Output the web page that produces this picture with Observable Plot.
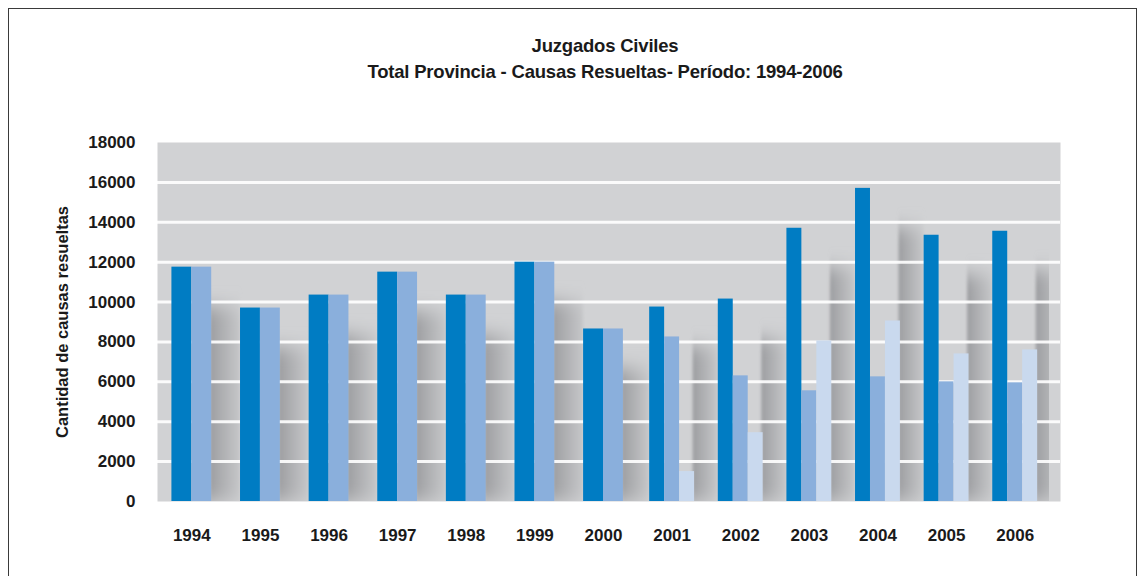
<!DOCTYPE html>
<html><head><meta charset="utf-8">
<script src="https://cdn.jsdelivr.net/npm/d3@7"></script>
<script src="https://cdn.jsdelivr.net/npm/@observablehq/plot@0.6"></script>
<style>
body{margin:0;background:#fff;width:1140px;height:576px;overflow:hidden;position:relative;font-family:"Liberation Sans",Arial,sans-serif}
#frame{position:absolute;left:8px;top:8px;width:1129px;height:600px;border:1px solid #3a3a3a;box-sizing:border-box}
#title{position:absolute;left:70px;width:1070px;top:33px;text-align:center;font-weight:bold;font-size:18.5px;line-height:26px;color:#1a1a1a;letter-spacing:-0.2px}
#chart{position:absolute;left:0;top:100px}
</style></head><body>
<div id="frame"></div>
<div id="title">Juzgados Civiles<br>Total Provincia - Causas Resueltas- Período: 1994-2006</div>
<div id="chart"></div>
<script>
const years = ["1994","1995","1996","1997","1998","1999","2000","2001","2002","2003","2004","2005","2006"];
const serieOscura = [11750, 9700, 10350, 11500, 10350, 12000, 8650, 9750, 10150, 13700, 15700, 13350, 13550];
const serieMedia  = [11750, 9700, 10350, 11500, 10350, 12000, 8650, 8250, 6300, 5550, 6250, 6000, 5950];
const serieClara  = [null, null, null, null, null, null, null, 1500, 3450, 8050, 9050, 7400, 7600];
const yTicks = [0, 2000, 4000, 6000, 8000, 10000, 12000, 14000, 16000, 18000];
const seriesNames = ["a", "b", "c"];
const seriesColors = ["#007cc3", "#8aafdc", "#c9d9ee"];

// layout of grouped bars (derived from data)
const groups = years.map((y, i) => {
  const vals = [serieOscura[i], serieMedia[i], serieClara[i]];
  const present = vals.map((v, k) => ({v, k})).filter(d => d.v != null);
  const n = present.length;
  const bw = n === 2 ? 0.29 : 0.218;
  return {i, present, n, bw, gw: n * bw, max: d3.max(present, d => d.v)};
});
const bars = [];
groups.forEach(g => {
  const start = g.i - g.gw / 2;
  g.present.forEach((d, j) => {
    bars.push({x1: start + j * g.bw, x2: start + (j + 1) * g.bw, value: d.v, series: seriesNames[d.k]});
  });
});
const shadows = groups.map((g, idx) => {
  const next = groups[idx + 1];
  const right = next ? next.i - next.gw / 2 : g.i + 0.7;
  return {x1: g.i + g.gw / 2 - 0.02, x2: right, top: g.max - 2000};
});

const chart = Plot.plot({
  width: 1140, height: 476,
  marginLeft: 157, marginRight: 91, marginTop: 42, marginBottom: 75,
  x: {domain: [-0.5, 12.5], axis: null},
  y: {domain: [0, 18000], axis: null},
  color: {domain: seriesNames, range: seriesColors},
  style: {fontFamily: '"Liberation Sans", Arial, sans-serif', fontSize: "17px", fontWeight: "bold", color: "#1a1a1a", background: "transparent"},
  marks: [
    Plot.frame({fill: "#d1d2d4", stroke: null, insetRight: -11}),
    Plot.rectY(shadows, {x1: "x1", x2: "x2", y1: 0, y2: "top", fill: "url(#shGrad)", clip: true}),
    Plot.ruleY(yTicks.filter(t => t > 0 && t < 18000), {stroke: "white", strokeWidth: 3, strokeOpacity: 0.9, insetRight: -11}),
    Plot.rectY(bars, {x1: "x1", x2: "x2", y1: 0, y2: "value", fill: "series"}),
    Plot.axisY({ticks: yTicks, tickSize: 0, tickPadding: 22, tickFormat: d3.format("d"), label: null, fontSize: 17}),
    Plot.axisX({ticks: d3.range(years.length), tickSize: 0, tickPadding: 27, tickFormat: i => years[i], label: null, fontSize: 17}),
    Plot.text(["Cantidad de causas resueltas"], {frameAnchor: "left", dx: -95, rotate: -90, textAnchor: "middle", fontSize: 16.5, fontWeight: "bold", fill: "#1a1a1a"})
  ]
});

const svg = d3.select(chart);
const defs = svg.insert("defs", ":first-child");
const grad = defs.append("linearGradient").attr("id", "shGrad").attr("x1", "0").attr("x2", "1").attr("y1", "0").attr("y2", "0");
grad.append("stop").attr("offset", "0%").attr("stop-color", "#9d9ea1");
grad.append("stop").attr("offset", "100%").attr("stop-color", "#c6c7c9");
const f = defs.append("filter").attr("id", "shBlur").attr("x", "-50%").attr("y", "-50%").attr("width", "200%").attr("height", "200%");
f.append("feGaussianBlur").attr("stdDeviation", "1.5 9");
const rectGroups = svg.selectAll('g[aria-label="rect"]').nodes();
if (rectGroups.length) {
  const g = d3.select(rectGroups[0]);
  g.selectAll("rect").attr("filter", "url(#shBlur)");
}

document.getElementById("chart").appendChild(chart);
</script>
</body></html>
